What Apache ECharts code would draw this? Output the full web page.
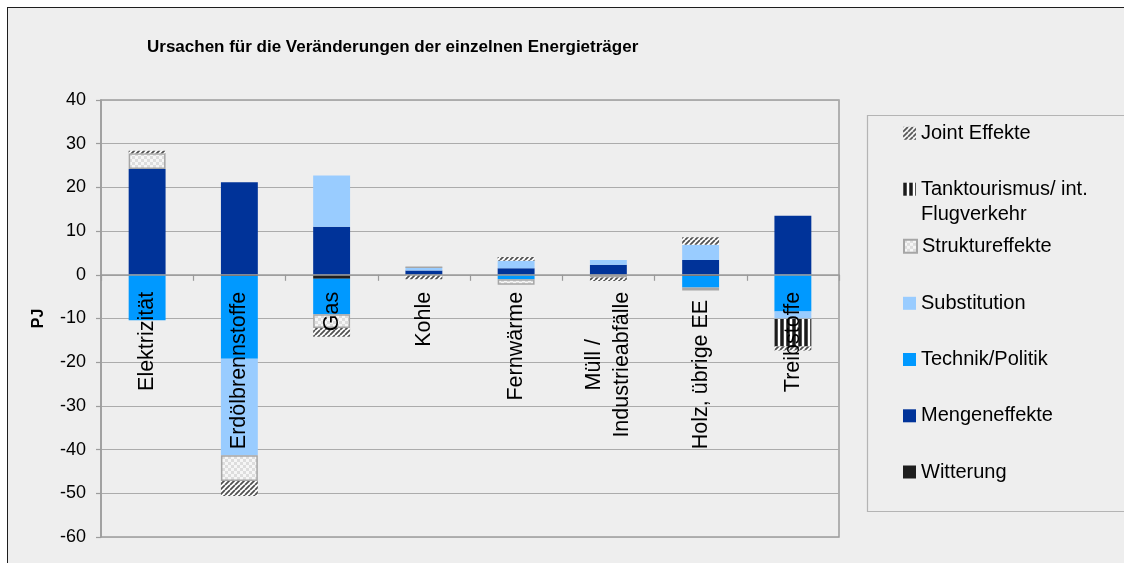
<!DOCTYPE html>
<html>
<head>
<meta charset="utf-8">
<script src="https://cdn.jsdelivr.net/npm/echarts@6/dist/echarts.min.js"></script>
<style>
  html, body { margin: 0; padding: 0; background: #ffffff; }
  #frame { position: absolute; left: 7px; top: 7px; width: 1130px; height: 570px;
           background: #eeeeee; border-left: 1.5px solid #1e1e1e; border-top: 1.5px solid #1e1e1e; }
  #chart { position: absolute; left: 0; top: 0; width: 1124px; height: 563px; }
</style>
</head>
<body>
<div id="frame"></div>
<div id="chart"></div>
<script>
// ---- data (PJ) ----
const categories = ['Elektrizität', 'Erdölbrennstoffe', 'Gas', 'Kohle', 'Fernwärme',
                    'Müll /\nIndustrieabfälle', 'Holz, übrige EE', 'Treibstoffe'];
const witterung       = [0,    -0.3, -0.9,  0,    0,    0,    -0.3,  0];
const mengeneffekte   = [24.2, 21.2, 11.0,  1.0,  1.5,  2.3,   3.4, 13.5];
const technikPolitik  = [-10.4, -18.9, -8.1, 0,  -1.0,  0,    -2.6, -8.4];
const substitution    = [0,   -22.1, 11.7,  0.75, 1.7,  1.1,   3.5, -1.7];
const struktureffekte = [3.6,  -5.9, -3.2,  0,   -1.3, -0.6,  -0.7,  0];
const tanktourismus   = [0,     0,    0,    0,    0,    0,     0,   -6.3];
const jointEffekte    = [0.6,  -3.4, -2.0, -1.0,  0.9, -0.8,   1.7, -0.9];
const yTicks = { min: -60, max: 40, interval: 10 };

// ---- patterns ----
function hatch() {
  const c = document.createElement('canvas'); c.width = 5; c.height = 5;
  const g = c.getContext('2d');
  g.fillStyle = '#ffffff'; g.fillRect(0, 0, 5, 5);
  g.strokeStyle = '#505050'; g.lineWidth = 1.8;
  g.beginPath();
  for (let k = -5; k <= 10; k += 5) { g.moveTo(k, 5); g.lineTo(k + 5, 0); }
  g.stroke();
  return c;
}
function vstripes() {
  const c = document.createElement('canvas'); c.width = 6; c.height = 2;
  const g = c.getContext('2d');
  g.fillStyle = '#ffffff'; g.fillRect(0, 0, 6, 2);
  g.fillStyle = '#8a8a8a'; g.fillRect(0, 0, 4, 2);
  g.fillStyle = '#1c1c1c'; g.fillRect(0.5, 0, 3, 2);
  return c;
}
function checker() {
  const c = document.createElement('canvas'); c.width = 6; c.height = 6;
  const g = c.getContext('2d');
  g.fillStyle = '#f6f6f6'; g.fillRect(0, 0, 6, 6);
  g.fillStyle = '#dddddd'; g.fillRect(0, 0, 3, 3); g.fillRect(3, 3, 3, 3);
  return c;
}

const FONT = 'Liberation Sans, Arial, sans-serif';
const GRID = { left: 101, right: 285, top: 100, bottom: 26 };
const gridHeight = 563 - GRID.top - GRID.bottom;
// place the category axis at value 0 (measured from the bottom of the grid)
const zeroOffset = -gridHeight * (0 - yTicks.min) / (yTicks.max - yTicks.min);

const chart = echarts.init(document.getElementById('chart'), null, { renderer: 'canvas' });

const S = (name, data, itemStyle) => ({
  name, type: 'bar', stack: 'total', data, barWidth: '40%', itemStyle,
  emphasis: { disabled: true }
});

const series = [
  S('Witterung', witterung, { color: '#1e1e1e' }),
  S('Mengeneffekte', mengeneffekte, { color: '#003399' }),
  S('Technik/Politik', technikPolitik, { color: '#0099ff' }),
  S('Substitution', substitution, { color: '#99ccff' }),
  S('Struktureffekte', struktureffekte, { color: { image: checker(), repeat: 'repeat' }, borderColor: '#a6a6a6', borderWidth: 1.5 }),
  S('Tanktourismus/ int. Flugverkehr', tanktourismus, { color: { image: vstripes(), repeat: 'repeat' } }),
  S('Joint Effekte', jointEffekte, { color: { image: hatch(), repeat: 'repeat' } })
];

const legendItems = [
  ['Joint Effekte', 133.3],
  ['Tanktourismus/ int. Flugverkehr', 189.2],
  ['Struktureffekte', 246.3],
  ['Substitution', 303.3],
  ['Technik/Politik', 359.5],
  ['Mengeneffekte', 415.8],
  ['Witterung', 472]
];
const legends = legendItems.map(([name, cy]) => ({
  data: [name], orient: 'vertical', left: 903, top: cy - 10, padding: 0,
  itemWidth: 13, itemHeight: 13, selectedMode: false, icon: 'rect',
  formatter: n => n === 'Tanktourismus/ int. Flugverkehr' ? 'Tanktourismus/ int.' : n,
  textStyle: { fontSize: 20, lineHeight: 20, color: '#000', fontFamily: FONT }
}));

chart.setOption({
  backgroundColor: 'transparent',
  animation: false,
  title: {
    text: 'Ursachen für die Veränderungen der einzelnen Energieträger',
    left: 147, top: 39, padding: 0,
    textStyle: { fontSize: 17, fontWeight: 'bold', color: '#000', fontFamily: FONT }
  },
  legend: legends,
  graphic: [
    { type: 'rect', shape: { x: 867.5, y: 115.5, width: 300, height: 396 },
      style: { fill: 'none', stroke: '#b4b4b4', lineWidth: 1.2 }, z: 1 },
    { type: 'text', left: 921, top: 214 - 10,
      style: { text: 'Flugverkehr', fontSize: 20, lineHeight: 20, fill: '#000', fontFamily: FONT } }
  ],
  grid: Object.assign({ show: true, outerBoundsMode: 'none', containLabel: false,
          borderColor: '#9c9c9c', borderWidth: 1.5, backgroundColor: 'transparent' }, GRID),
  xAxis: {
    type: 'category', data: categories, position: 'bottom', offset: zeroOffset, z: 10,
    axisLine: { onZero: false, lineStyle: { color: '#9a9a9a', width: 1.5 } },
    axisTick: { show: true, length: 6, interval: 0, alignWithLabel: false, lineStyle: { color: '#9a9a9a', width: 1.2 } },
    axisLabel: {
      interval: 0, rotate: 90, margin: 17, color: '#000', fontSize: 21.5, fontFamily: FONT, hideOverlap: false,
      formatter: v => {
        if (v.indexOf('\n') >= 0) return v.split('\n').map(s => '{c|' + s + '}').join('\n');
        if (v === 'Holz, übrige EE') return '{h|' + v + '}';
        return v;
      },
      rich: {
        c: { align: 'center', fontSize: 21.5, lineHeight: 28, fontFamily: FONT, color: '#000' },
        h: { padding: [0, 8, 0, 0], fontSize: 21.5, fontFamily: FONT, color: '#000' }
      }
    },
    splitLine: { show: false }
  },
  yAxis: {
    type: 'value', min: yTicks.min, max: yTicks.max, interval: yTicks.interval,
    name: 'PJ', nameLocation: 'middle', nameRotate: 90, nameGap: 54, nameMoveOverlap: false,
    nameTextStyle: { fontSize: 16, fontWeight: 'bold', color: '#000', fontFamily: FONT },
    axisLine: { show: true, lineStyle: { color: '#9c9c9c', width: 1.5 } },
    axisTick: { show: true, length: 5, lineStyle: { color: '#9c9c9c', width: 1.2 } },
    axisLabel: { margin: 15, fontSize: 18, color: '#000', fontFamily: FONT },
    splitLine: { lineStyle: { color: '#ababab', width: 1.2 } }
  },
  series
});
</script>
</body>
</html>
